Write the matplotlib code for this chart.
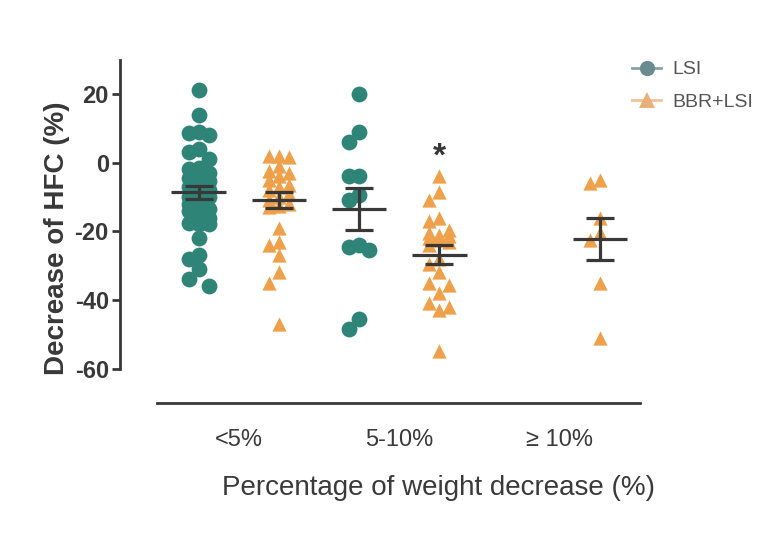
import numpy as np
import matplotlib
matplotlib.use('Agg')
from matplotlib import pyplot as plt
from matplotlib.lines import Line2D

plt.rcParams['font.family'] = ['Liberation Sans', 'DejaVu Sans']
plt.rcParams['axes.unicode_minus'] = False

categories = ['<5%', '5-10%', '\u2265 10%']
series = ['LSI', 'BBR+LSI']

# individual values (decrease of HFC, %)
lsi_lt5 = [21, 14, 9, 8.5, 8, 4, 3, 1, -1.5, -2, -3, -4, -4.5, -5.5, -6, -7, -8,
           -9, -10, -10, -11, -12, -13.5, -14, -14, -16, -17.5, -18, -18, -22,
           -27, -28, -31, -34, -36]
bbr_lt5 = [2, 1.5, 2, -1, -2.5, -3, -4, -5, -6.5, -7, -8, -9, -10, -11, -12,
           -13, -12.5, -19, -23, -24, -27, -32, -35, -47]
lsi_5_10 = [20, 9, 6, -4, -4, -9.5, -11, -24.5, -25.5, -24, -45.5, -48.5]
bbr_5_10 = [-4, -8.5, -11, -16, -17, -19.5, -20.5, -21, -21.5, -22, -22.5, -23,
            -24, -28, -29.5, -32, -35.5, -35, -38, -42, -43, -41, -55]
bbr_ge10 = [-5, -6, -16, -20.5, -22.5, -35, -51]

# mean and SEM bars
lsi_mean = [-8.7, -13.5]
lsi_sem = [2.0, 6.2]
bbr_mean = [-10.9, -26.8, -22.2]
bbr_sem = [2.3, 2.8, 6.1]

teal = '#2f8478'
orange = '#eea04a'
dark = '#383838'

fig = plt.figure(figsize=(7.73, 5.4), dpi=100)
ax = fig.add_axes([0.1552, 0.2537, 0.6727, 0.636])
ax.set_xlim(-0.74, 2.5)
ax.set_ylim(-70, 30)


def swarm(vals, center, d=13, step=10):
    # narrow beeswarm in pixel space: centre column plus one column each side
    vals = np.asarray(vals, dtype=float)
    cx = ax.transData.transform((center, 0))[0]
    pix = ax.transData.transform(np.column_stack([np.full(len(vals), center), vals]))
    placed = []
    xs = np.zeros(len(vals))
    for i in np.argsort(vals)[::-1]:
        py = pix[i, 1]
        best, best_d = cx, -1
        for k in [0, -1, 1]:
            px = cx + k * step
            md = min([np.hypot(px - qx, py - qy) for qx, qy in placed] or [1e9])
            if md >= d:
                best = px
                break
            if md > best_d:
                best, best_d = px, md
        placed.append((best, py))
        xs[i] = ax.transData.inverted().transform((best, py))[0]
    return xs


off = 0.25
lsi_data = [lsi_lt5, lsi_5_10]
bbr_data = [bbr_lt5, bbr_5_10, bbr_ge10]

for i, vals in enumerate(lsi_data):
    ax.scatter(swarm(vals, i - off), vals, s=130, marker='o', color=teal,
               linewidths=0, zorder=2)
for i, vals in enumerate(bbr_data):
    ax.scatter(swarm(vals, i + off), vals, s=105, marker='^', color=orange,
               linewidths=0, zorder=2)


def mean_bar(x, m, e):
    ax.plot([x - 0.17, x + 0.17], [m, m], color=dark, lw=2.3, zorder=3,
            solid_capstyle='butt')
    ax.errorbar([x], [m], yerr=[e], fmt='none', ecolor=dark, elinewidth=2.3,
                capsize=10, capthick=2.3, zorder=3)


for i, (m, e) in enumerate(zip(lsi_mean, lsi_sem)):
    mean_bar(i - off, m, e)
for i, (m, e) in enumerate(zip(bbr_mean, bbr_sem)):
    mean_bar(i + off, m, e)

ax.text(1 + off, 1.5, '*', ha='center', va='center', fontsize=24,
        fontweight='bold', color=dark)

for s in ['top', 'right']:
    ax.spines[s].set_visible(False)
ax.spines['left'].set_bounds(-60, 30)
ax.spines['bottom'].set_bounds(-0.51, 2.5)
for s in ['left', 'bottom']:
    ax.spines[s].set_linewidth(2)
    ax.spines[s].set_color(dark)

ax.set_yticks([20, 0, -20, -40, -60])
ax.tick_params(axis='y', length=6, width=2, color=dark, pad=2,
               labelsize=17, labelcolor=dark)
for t in ax.get_yticklabels():
    t.set_fontweight('bold')
ax.set_xticks(range(len(categories)))
ax.set_xticklabels(categories)
ax.tick_params(axis='x', length=0, pad=19, labelsize=17, labelcolor='#3a3a3a')

ax.set_xlabel('Percentage of weight decrease (%)', fontsize=20, color='#3a3a3a')
ax.xaxis.set_label_coords(0.613, -0.21)
ax.set_ylabel('Decrease of HFC (%)', fontsize=20, fontweight='bold', color=dark)
ax.yaxis.set_label_coords(-0.097, 0.48)

handles = [
    Line2D([], [], color='#8aa3a4', marker='o', markersize=11,
           markerfacecolor='#6b8c8e', markeredgewidth=0, lw=2),
    Line2D([], [], color='#f0c295', marker='^', markersize=12,
           markerfacecolor='#eab07a', markeredgewidth=0, lw=2),
]
fig.legend(handles, series, loc='upper left', bbox_to_anchor=(0.795, 0.92),
           frameon=False, fontsize=14, labelcolor='#555555',
           handlelength=1.5, handletextpad=0.6, labelspacing=0.75)

fig.savefig('out.png', dpi=100)
